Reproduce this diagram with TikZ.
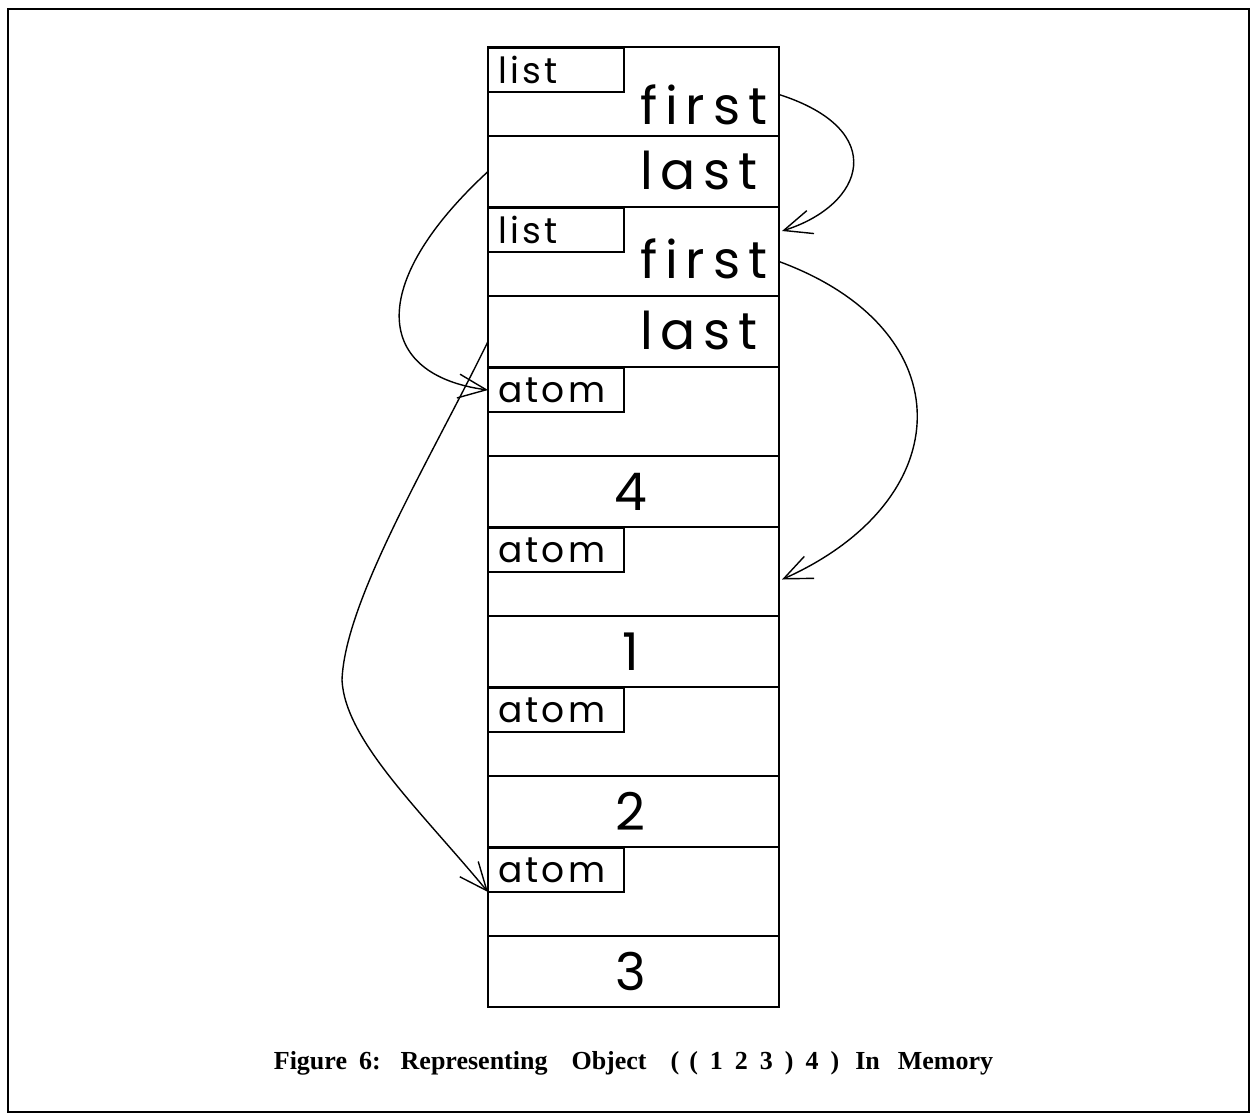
\documentclass[tikz,border=0pt]{standalone}
\usepackage{fontspec}
\setmainfont{Liberation Serif}
\newfontfamily\plotfont[LetterSpace=15]{Poppins}
\newfontfamily\tagfont[LetterSpace=9]{Poppins}
\usepackage{tikz}
\usetikzlibrary{calc, positioning, arrows.meta}

\begin{document}
\begin{tikzpicture}[x=0.5pt, y=-0.5pt,
    >={Straight Barb[length=14pt, width=12pt]},
    cell/.style={draw, line width=1pt, minimum width=145.5pt, inner sep=0pt, outer sep=0pt, anchor=north west},
    tag/.style={draw, line width=1pt, minimum height=22pt, text width=58pt, inner xsep=5pt, inner ysep=0pt,
        outer sep=0pt, align=left, anchor=north west, font=\tagfont\fontsize{18}{18}\selectfont},
    val/.style={inner sep=0pt, font=\plotfont\fontsize{26}{26}\selectfont},
    link/.style={->, line width=0.7pt}]
    \useasboundingbox (0,0) rectangle (1254,1116);
    \draw[line width=1.3pt] (8,9) rectangle (1249,1112);

    % memory cells, top to bottom
    \node[cell, minimum height=44.5pt] (r1) at (488,47) {};
    \node[cell, minimum height=35.5pt] (r2) at (r1.south west) {};
    \node[cell, minimum height=44.5pt] (r3) at (r2.south west) {};
    \node[cell, minimum height=35.5pt] (r4) at (r3.south west) {};
    \node[cell, minimum height=44.5pt] (r5) at (r4.south west) {};
    \node[cell, minimum height=35.5pt] (r6) at (r5.south west) {};
    \node[cell, minimum height=44.5pt] (r7) at (r6.south west) {};
    \node[cell, minimum height=35.5pt] (r8) at (r7.south west) {};
    \node[cell, minimum height=44.5pt] (r9) at (r8.south west) {};
    \node[cell, minimum height=35.5pt] (r10) at (r9.south west) {};
    \node[cell, minimum height=44.5pt] (r11) at (r10.south west) {};
    \node[cell, minimum height=35.5pt] (r12) at (r11.south west) {};

    \node[tag] (t1) at ($(r1.north west)+(0,1)$) {list};
    \node[tag] (t3) at ($(r3.north west)+(0,1)$) {list};
    \node[tag] (t5) at ($(r5.north west)+(0,1)$) {atom};
    \node[tag] (t7) at ($(r7.north west)+(0,1)$) {atom};
    \node[tag] (t9) at ($(r9.north west)+(0,1)$) {atom};
    \node[tag] (t11) at ($(r11.north west)+(0,1)$) {atom};

    \node[val, anchor=base west] (f1) at ($(r1.south west)+(152,-12)$) {first};
    \node[val, anchor=base west] (l2) at ($(r2.south west)+(152,-18)$) {last};
    \node[val, anchor=base west] (f3) at ($(r3.south west)+(152,-18)$) {first};
    \node[val, anchor=base west] (l4) at ($(r4.south west)+(152,-18)$) {last};
    \node[val] (v6) at ($(r6.center)+(-3,0)$) {4};
    \node[val] (v8) at ($(r8.center)+(-3,0)$) {1};
    \node[val] (v10) at ($(r10.center)+(-3,0)$) {2};
    \node[val] (v12) at ($(r12.center)+(-3,0)$) {3};

    \coordinate (bend) at (342,680);
    \draw[link] ($(r1.east)+(0,3)$) .. controls (890,130) and (865,205) .. ($(r3.north east)+(3,24)$);
    \draw[link] (r2.west) .. controls (365,285) and (375,375) .. (t5.west);
    \draw[link] ($(r3.east)+(0,10)$) .. controls (965,330) and (960,500) .. ($(r7.east)+(3,8)$);
    \draw[link] ($(r4.west)+(0,10)$) .. controls (430,460) and (345,600) .. (bend)
        .. controls (345,740) and (420,810) .. (t11.south west);

    \node[anchor=base, font=\bfseries\fontsize{13}{13}\selectfont] (cap) at ($(r12.south)+(0,62)$)
        {Figure\hspace{6pt}6:\hspace{10pt}Representing\hspace{12pt}Object\hspace{12pt}(\hspace{5pt}(\hspace{6pt}1\hspace{6pt}2\hspace{6pt}3\hspace{6pt})\hspace{6pt}4\hspace{6pt})\hspace{8pt}In\hspace{9pt}Memory};
\end{tikzpicture}
\end{document}
